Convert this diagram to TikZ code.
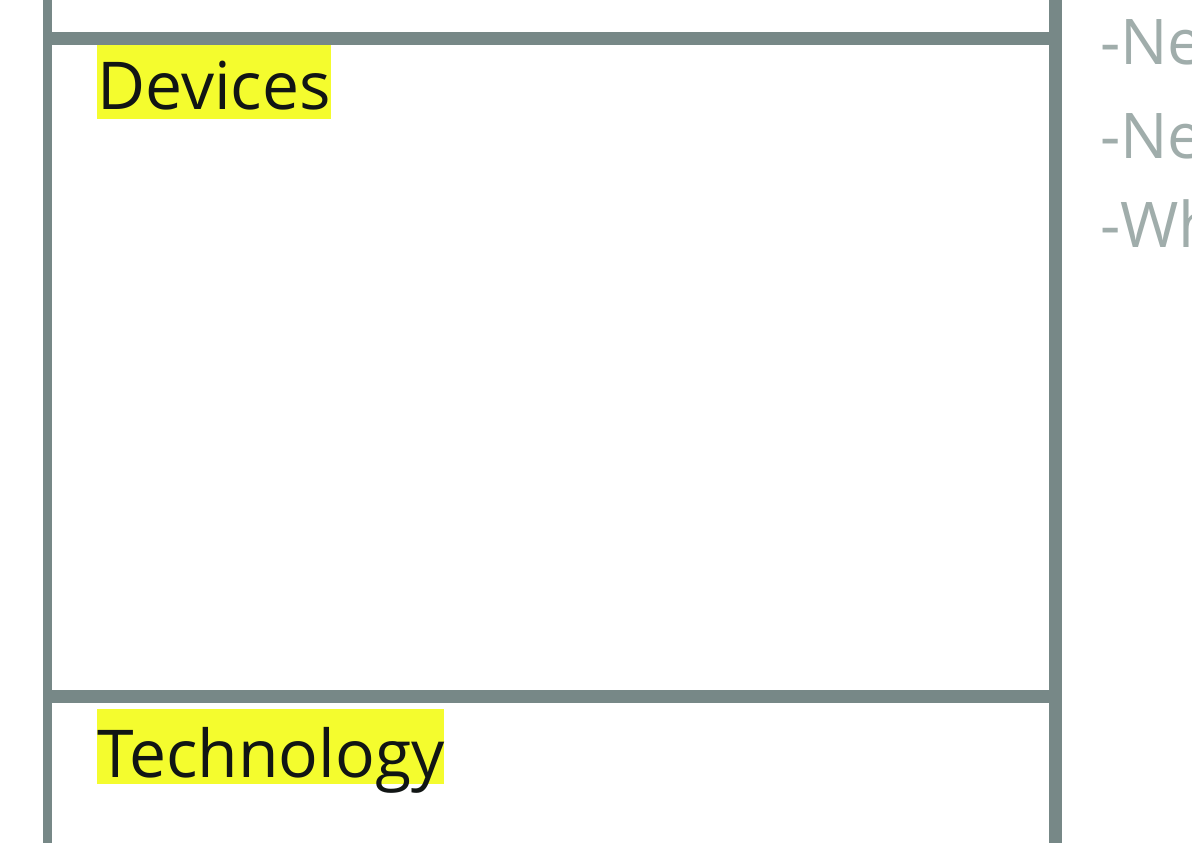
\documentclass[tikz,border=0pt]{standalone}
\usepackage{fontspec}
\setmainfont{Open Sans}
\definecolor{framegrey}{HTML}{778887}
\definecolor{notegrey}{HTML}{A0ADAB}
\definecolor{marker}{HTML}{F4FC2E}
\definecolor{ink}{HTML}{111514}
\begin{document}
\begin{tikzpicture}[x=1pt,y=-1pt,line cap=butt]
\tikzset{label box/.style={fill=marker,text=ink,font=\fontsize{66}{66}\selectfont,inner sep=0pt,text height=65pt,text depth=9pt,anchor=base west},
  note/.style={text=notegrey,font=\fontsize{63}{63}\selectfont,inner sep=0pt,anchor=base west}}
\useasboundingbox (0,0) rectangle (1192,843);
\clip (0,0) rectangle (1192,843);
\fill[white] (0,0) rectangle (1192,843);
% frame of the canvas
\draw[framegrey,line width=9pt] (47.5,0)--(47.5,843);
\draw[framegrey,line width=13pt] (1055.5,0)--(1055.5,843);
\foreach \y in {38.5,696.5} \draw[framegrey,line width=13pt] (43,\y)--(1062,\y);
% block titles
\node[label box] (devices) at (97,110) {Devices};
\node[label box,text height=68pt,text depth=7pt] (technology) at (97,777) {Technology};
% notes beside the frame
\node[note] (note1) at (1100,65) {-Ne};
\node[note] (note2) at (1100,158) {-Ne};
\node[note] (note3) at (1100,247) {-Wh};
\end{tikzpicture}
\end{document}
